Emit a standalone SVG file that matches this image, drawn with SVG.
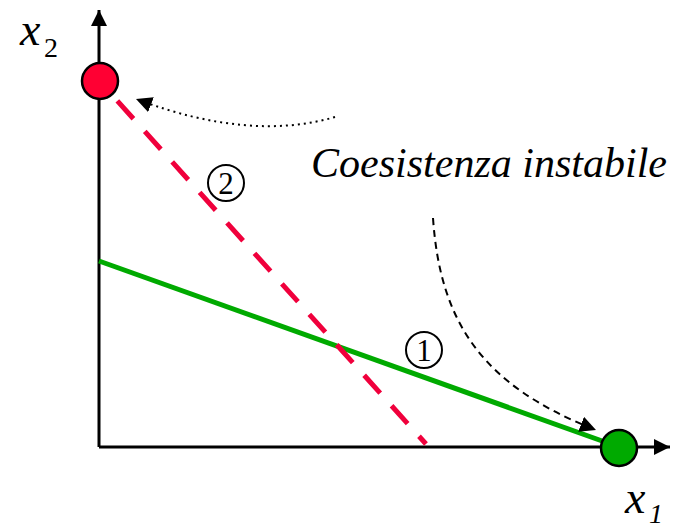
<svg xmlns="http://www.w3.org/2000/svg" width="680" height="529" viewBox="0 0 680 529">
<style>
.ax{stroke:#000;stroke-width:3;fill:none}
.ring{fill:none;stroke:#000;stroke-width:2}
.node{stroke:#000;stroke-width:2.5}
.arr{fill:none;stroke:#000;stroke-width:2}
</style>
<defs>
<marker id="axh" viewBox="0 0 10 10" refX="10" refY="5" markerWidth="16" markerHeight="16" markerUnits="userSpaceOnUse" orient="auto"><path d="M0,0 L10,5 L0,10 z" fill="#000"/></marker>
</defs>
<g id="axes">
<line class="ax" x1="99" y1="447" x2="99" y2="10" marker-end="url(#axh)"/>
<line class="ax" x1="99" y1="447" x2="670" y2="447" marker-end="url(#axh)"/>
</g>
<g id="connectors">
<line x1="99" y1="261" x2="619" y2="447" stroke="#00aa00" stroke-width="5"/>
<line x1="112" y1="95" x2="426" y2="444" stroke="#f0003c" stroke-width="5" stroke-dasharray="24 17" stroke-dashoffset="-8"/>
<path class="arr" d="M335,117 Q250,142 136,99" stroke-dasharray="2 4" marker-end="url(#axh)"/>
<path class="arr" d="M433,218 C440,320 480,385 596,430" stroke-dasharray="7 5" marker-end="url(#axh)"/>
</g>
<g id="node-red"><circle class="node" cx="100" cy="81" r="18" fill="#ff0033"/></g>
<g id="node-green"><circle class="node" cx="619" cy="448" r="18" fill="#00aa00"/></g>
<g id="axis-labels">
<text x="20" y="45" font-size="46" font-family="Times New Roman" font-style="italic">x</text>
<text x="44" y="57" font-size="28" font-family="Times New Roman">2</text>
<text x="625" y="513" font-size="46" font-family="Times New Roman" font-style="italic">x</text>
<text x="649" y="523" font-size="28" font-family="Times New Roman" font-style="italic">1</text>
</g>
<g id="title">
<text x="311" y="177" font-size="42" font-family="Times New Roman" font-style="italic" textLength="356" lengthAdjust="spacing">Coesistenza instabile</text>
</g>
<g id="mark2"><circle class="ring" cx="226" cy="183" r="18"/><text x="226" y="193.5" font-size="31" font-family="Times New Roman" text-anchor="middle">2</text></g>
<g id="mark1"><circle class="ring" cx="424" cy="350" r="18"/><text x="424" y="360.5" font-size="31" font-family="Times New Roman" text-anchor="middle">1</text></g>
</svg>
